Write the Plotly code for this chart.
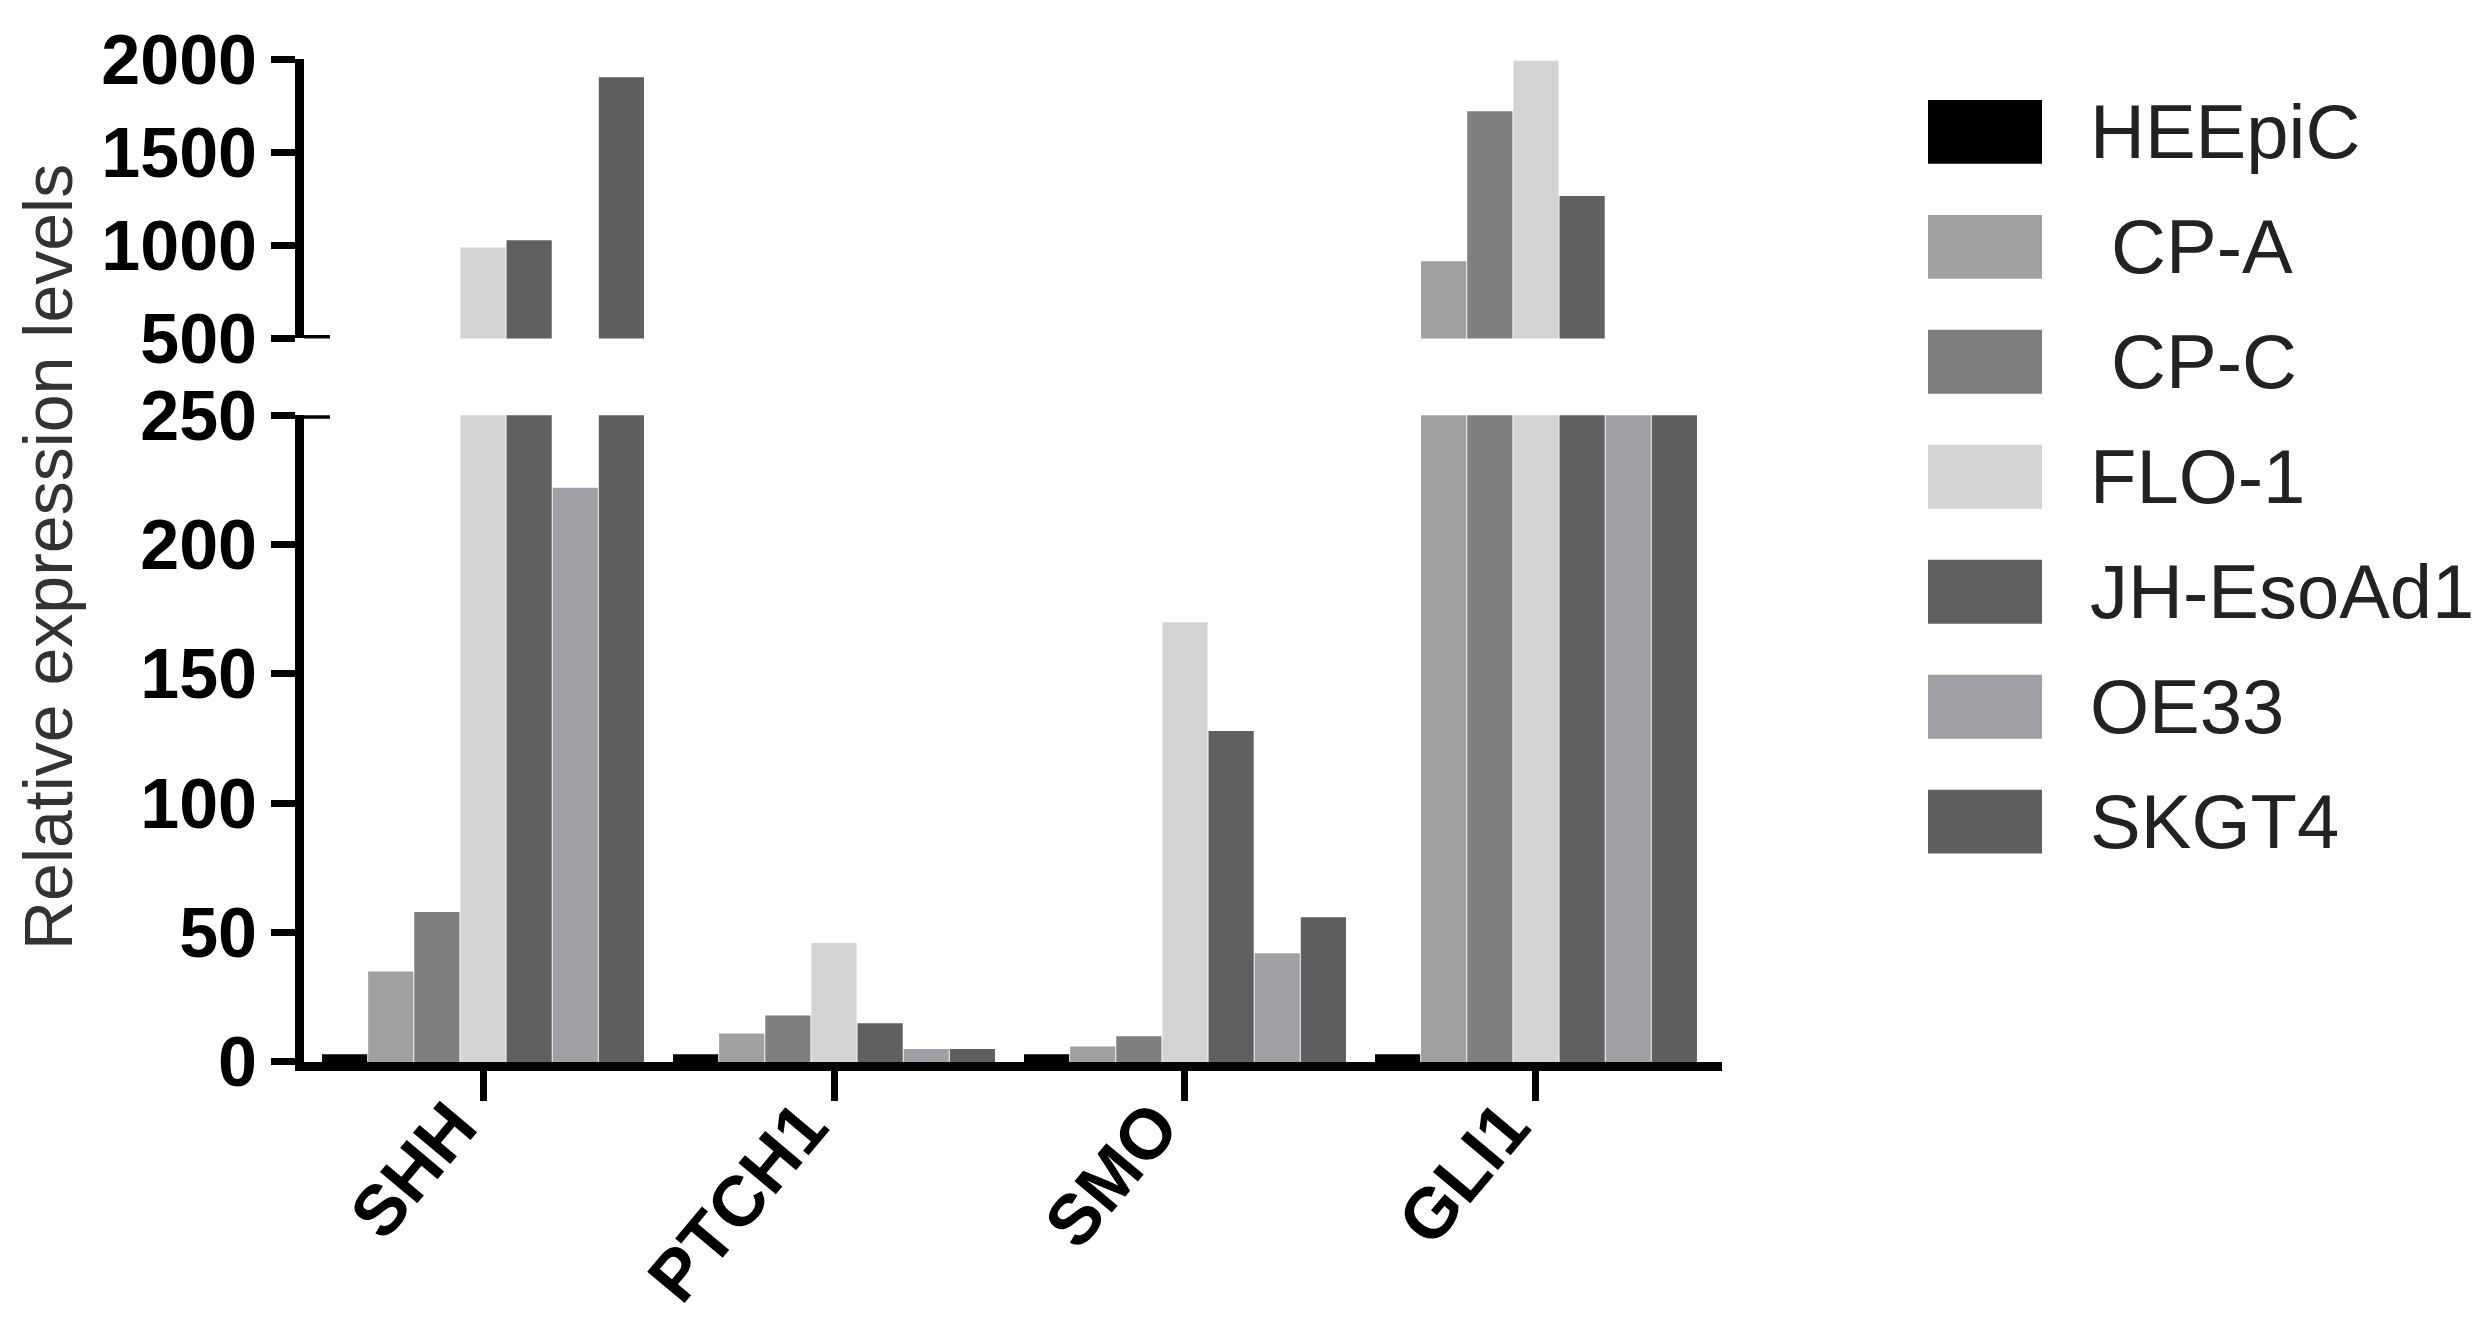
import plotly.graph_objects as go

genes = ["SHH", "PTCH1", "SMO", "GLI1"]
cell_lines = ["HEEpiC", " CP-A", " CP-C", "FLO-1", "JH-EsoAd1", "OE33", "SKGT4"]

# relative expression (HEEpiC = reference)
heepic = [3, 3, 3, 3]
cp_a = [35, 11, 6, 915]
cp_c = [58, 18, 10, 1720]
flo_1 = [988, 46, 170, 1990]
jh_esoad1 = [1027, 15, 128, 1265]
oe33 = [222, 5, 42, 380]
skgt4 = [1902, 5, 56, 420]

bar_colors = ["#000000", "#a0a0a0", "#7f7f7f", "#d3d3d3", "#606060", "#a09fa5", "#5f5f5f"]
lower_ticks = [0, 50, 100, 150, 200, 250]
upper_ticks = [500, 1000, 1500, 2000]

series = [heepic, cp_a, cp_c, flo_1, jh_esoad1, oe33, skgt4]

W, H = 2490, 1344
OFF = 8  # default body margin of the written page
left, right, top, bottom = 304, 1722, 57, 1062


def px(x):
    return (x - left) / (right - left)


def py(y):
    return (bottom - y) / (bottom - top)


fig = go.Figure()
for name, vals, col in zip(cell_lines, series, bar_colors):
    # lower segment 0-250 and upper segment 500-2000 share the same x
    fig.add_trace(go.Bar(x=genes, y=vals, name=name.strip(), marker_color=col,
                         marker_line_width=0, xaxis="x", yaxis="y", showlegend=False))
    fig.add_trace(go.Bar(x=genes, y=vals, name=name.strip(), marker_color=col,
                         marker_line_width=0, xaxis="x2", yaxis="y2", showlegend=False))

ytickfont = dict(family="Liberation Sans, Arial", size=70, color="black", weight="bold")
xtickfont = dict(family="Liberation Sans, Arial", size=71, color="black", weight="bold")
yax = dict(showline=True, linewidth=9, linecolor="black", ticks="outside", ticklen=24,
           tickwidth=7, tickcolor="black", showgrid=False, zeroline=False,
           tickfont=ytickfont, fixedrange=True)

Wf, Hf = W - 2 * OFF, H - 2 * OFF
fig.update_layout(
    width=Wf, height=Hf,
    margin=dict(l=left - OFF, r=Wf - (right - OFF), t=top - OFF, b=Hf - (bottom - OFF)),
    paper_bgcolor="white", plot_bgcolor="white",
    barmode="group", bargap=0.08, bargroupgap=0.02,
    xaxis=dict(domain=[0, 1], anchor="y", range=[-0.51, 3.53], showline=True, linewidth=9,
               linecolor="black", ticks="outside", ticklen=30, tickwidth=7, tickcolor="black",
               tickangle=-50, tickfont=xtickfont, ticklabelstandoff=-45, ticklabelshift=-30,
               showgrid=False, zeroline=False),
    xaxis2=dict(domain=[0, 1], anchor="y2", matches="x", visible=False),
    yaxis=dict(domain=[0, py(414)], range=[0, 250], tickvals=lower_ticks, **yax),
    yaxis2=dict(domain=[py(337), 1], range=[500, 2000], tickvals=upper_ticks, **yax),
)

# axis break caps
for yref, yv in (("y", 250), ("y2", 500)):
    fig.add_shape(type="line", xref="paper", yref=yref, x0=px(left), x1=px(330),
                  y0=yv, y1=yv, line=dict(color="black", width=7))

fig.add_annotation(text="Relative expression levels", xref="paper", yref="paper",
                   x=px(48), y=py(556), xanchor="center", yanchor="middle",
                   textangle=-90, showarrow=False,
                   font=dict(family="Liberation Sans, Arial", size=68, color="#333333"))

# legend drawn by hand so the swatches can be large
for i, (name, col) in enumerate(zip(cell_lines, bar_colors)):
    cy = 130 + i * 115.2
    fig.add_shape(type="rect", xref="paper", yref="paper", x0=px(1928), x1=px(2042),
                  y0=py(cy - 32), y1=py(cy + 32), fillcolor=col, line_width=0)
    fig.add_annotation(text=name.replace(" ", "\u00a0"), xref="paper", yref="paper",
                       x=px(2088), y=py(cy), xanchor="left", yanchor="middle", showarrow=False,
                       font=dict(family="Liberation Sans, Arial", size=76, color="#222222"))

fig.write_html("out.html")
